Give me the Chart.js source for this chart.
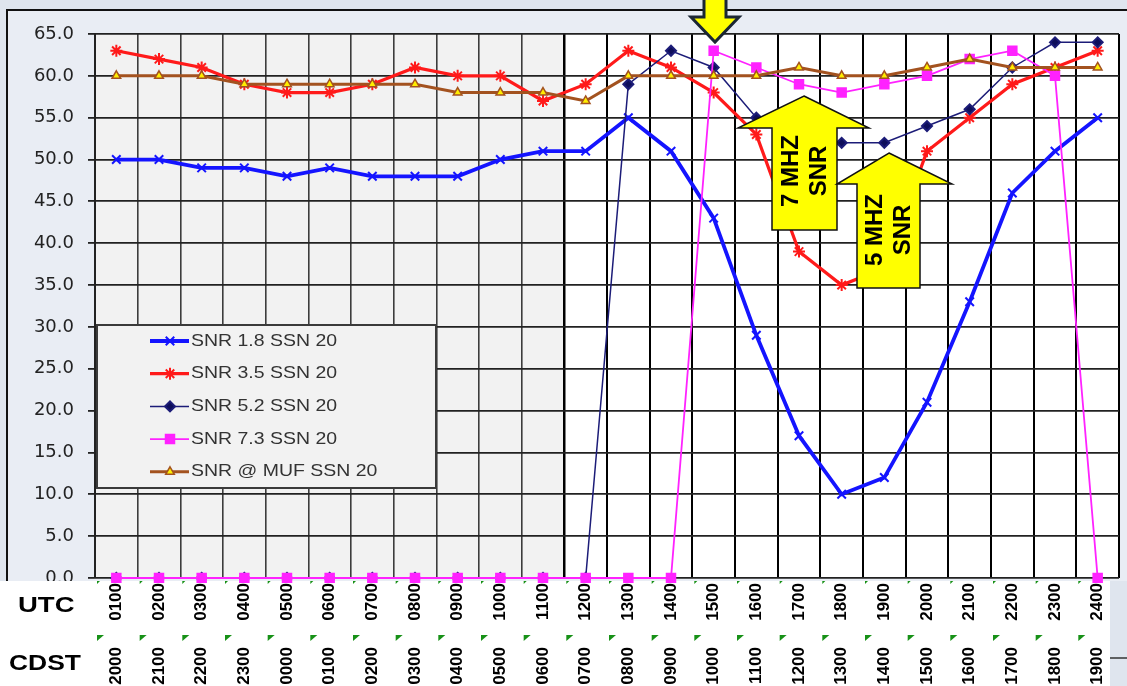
<!DOCTYPE html>
<html>
<head>
<meta charset="utf-8">
<script src="https://cdn.jsdelivr.net/npm/chart.js@4.4.1/dist/chart.umd.min.js"></script>
<style>
html,body{margin:0;padding:0;background:#dfe5ee;}
#wrap{position:relative;width:1127px;height:686px;}
</style>
</head>
<body>
<div id="wrap"><canvas id="snrChart"></canvas></div>
<script>
// hours, two time zones
var utcLabels = ['0100','0200','0300','0400','0500','0600','0700','0800','0900','1000','1100','1200',
                 '1300','1400','1500','1600','1700','1800','1900','2000','2100','2200','2300','2400'];
var cdstLabels = ['2000','2100','2200','2300','0000','0100','0200','0300','0400','0500','0600','0700',
                  '0800','0900','1000','1100','1200','1300','1400','1500','1600','1700','1800','1900'];

var seriesNames = ['SNR 1.8 SSN 20','SNR 3.5 SSN 20','SNR 5.2 SSN 20','SNR 7.3 SSN 20','SNR @ MUF SSN 20'];
var snr18 = [50,50,49,49,48,49,48,48,48,50,51,51,55,51,43,29,17,10,12,21,33,46,51,55];
var snr35 = [63,62,61,59,58,58,59,61,60,60,57,59,63,61,58,53,39,35,37,51,55,59,61,63];
var snr52 = [0,0,0,0,0,0,0,0,0,0,0,0,59,63,61,55,52,52,52,54,56,61,64,64];
var snr73 = [0,0,0,0,0,0,0,0,0,0,0,0,0,0,63,61,59,58,59,60,62,63,60,0];
var snrMuf = [60,60,60,59,59,59,59,59,58,58,58,57,60,60,60,60,61,60,60,61,62,61,61,61];

var yMin = 0, yMax = 65, yStep = 5;
var nightCount = 11; // grey shaded hours 0100..1100

var colors = ['#1414ff','#ff1a1a','#1c1c78','#ff22ff','#a3521f'];
var styles = ['crossRot','star','rectRot','rect','triangle'];

function stretchText(ctx, txt, x, y, sx) {
    ctx.save();
    ctx.translate(x, y);
    ctx.scale(sx, 1);
    ctx.fillText(txt, 0, 0);
    ctx.restore();
}

function upArrow(ctx, a) {
    ctx.beginPath();
    ctx.moveTo(a.tipX, a.tipY);
    ctx.lineTo(a.headR, a.headY);
    ctx.lineTo(a.shaftR, a.headY);
    ctx.lineTo(a.shaftR, a.bottom);
    ctx.lineTo(a.shaftL, a.bottom);
    ctx.lineTo(a.shaftL, a.headY);
    ctx.lineTo(a.headL, a.headY);
    ctx.closePath();
    ctx.fillStyle = '#ffff00';
    ctx.fill();
    ctx.lineWidth = 1.5;
    ctx.strokeStyle = '#111';
    ctx.stroke();
    ctx.save();
    ctx.translate(a.textX, a.textY);
    ctx.rotate(-Math.PI / 2);
    ctx.fillStyle = '#000';
    ctx.font = 'bold 24px "Liberation Sans", Arial, sans-serif';
    ctx.textAlign = 'center';
    ctx.textBaseline = 'middle';
    ctx.fillText(a.line1, 0, -14);
    ctx.fillText(a.line2, 0, 14);
    ctx.restore();
}

var backdrop = {
    id: 'backdrop',
    beforeDraw: function(chart) {
        var ctx = chart.ctx, ca = chart.chartArea, xs = chart.scales.x;
        ctx.save();
        ctx.fillStyle = '#dfe5ee';
        ctx.fillRect(0, 0, chart.width, chart.height);
        ctx.fillStyle = '#e9edf4';
        ctx.fillRect(7, 10, chart.width - 7, 571);
        ctx.strokeStyle = '#111';
        ctx.lineWidth = 2;
        ctx.beginPath();
        ctx.moveTo(7, 581); ctx.lineTo(7, 10); ctx.lineTo(chart.width, 10);
        ctx.stroke();
        // label area
        ctx.fillStyle = '#ffffff';
        ctx.fillRect(0, 581, 1110, chart.height - 581);
        ctx.strokeStyle = '#333';
        ctx.lineWidth = 1.5;
        ctx.beginPath(); ctx.moveTo(1110, 658); ctx.lineTo(chart.width, 658); ctx.stroke();
        // plot area: grey night part, white day part
        var half = (xs.getPixelForValue(1) - xs.getPixelForValue(0)) / 2;
        var split = xs.getPixelForValue(nightCount) - half;
        ctx.fillStyle = '#f2f2f2';
        ctx.fillRect(ca.left, ca.top, split - ca.left, ca.bottom - ca.top);
        ctx.fillStyle = '#ffffff';
        ctx.fillRect(split, ca.top, ca.right - split, ca.bottom - ca.top);
        ctx.restore();
    },
    beforeDatasetsDraw: function(chart) {
        // legend box inside the plot
        var ctx = chart.ctx;
        ctx.save();
        ctx.fillStyle = '#f2f2f2';
        ctx.fillRect(97, 325, 339, 163);
        ctx.strokeStyle = '#3a3a3a';
        ctx.lineWidth = 2;
        ctx.strokeRect(97, 325, 339, 163);
        ctx.font = '16.5px "Liberation Sans", Arial, sans-serif';
        ctx.textBaseline = 'middle';
        chart.data.datasets.forEach(function(ds, i) {
            var y = 341 + i * 32.7;
            ctx.strokeStyle = ds.borderColor;
            ctx.lineWidth = ds.borderWidth;
            ctx.beginPath(); ctx.moveTo(150, y); ctx.lineTo(189, y); ctx.stroke();
            ctx.fillStyle = ds.pointBackgroundColor;
            ctx.strokeStyle = ds.pointBorderColor;
            ctx.lineWidth = ds.pointBorderWidth;
            Chart.helpers.drawPoint(ctx, {pointStyle: ds.pointStyle, radius: ds.pointRadius, rotation: 0, borderWidth: ds.pointBorderWidth}, 170, y);
            ctx.fillStyle = '#333';
            stretchText(ctx, ds.label, 191, y, 1.18);
        });
        ctx.restore();
    },
    afterDraw: function(chart) {
        var ctx = chart.ctx, xs = chart.scales.x;
        ctx.save();
        // hide lower half of the 0.0 label like the original
        ctx.fillStyle = '#ffffff';
        ctx.fillRect(0, 581, 94, chart.height - 581);
        ctx.fillStyle = '#000';
        ctx.font = 'bold 22px "Liberation Sans", Arial, sans-serif';
        ctx.textBaseline = 'middle';
        stretchText(ctx, 'UTC', 18, 606, 1.25);
        stretchText(ctx, 'CDST', 9, 664, 1.2);
        // small green comment marks
        var half = (xs.getPixelForValue(1) - xs.getPixelForValue(0)) / 2;
        ctx.fillStyle = '#179117';
        for (var i = 0; i < utcLabels.length; i++) {
            var x0 = xs.getPixelForValue(i) - half + 2;
            ctx.beginPath(); ctx.moveTo(x0, 635); ctx.lineTo(x0 + 7, 635); ctx.lineTo(x0, 641); ctx.closePath(); ctx.fill();
            ctx.beginPath(); ctx.moveTo(x0, 581); ctx.lineTo(x0 + 3, 581); ctx.lineTo(x0, 584); ctx.closePath(); ctx.fill();
        }
        // callout arrows
        upArrow(ctx, {tipX: 804, tipY: 96, headY: 128, headL: 738, headR: 869, shaftL: 772, shaftR: 837, bottom: 230,
                      textX: 805, textY: 171, line1: '7 MHZ', line2: 'SNR'});
        upArrow(ctx, {tipX: 889, tipY: 153, headY: 184, headL: 837, headR: 952, shaftL: 857, shaftR: 920, bottom: 288,
                      textX: 889, textY: 230, line1: '5 MHZ', line2: 'SNR'});
        // pointer at the top
        ctx.beginPath();
        ctx.moveTo(704, -4); ctx.lineTo(726, -4); ctx.lineTo(726, 17); ctx.lineTo(739, 17);
        ctx.lineTo(715, 42); ctx.lineTo(691, 17); ctx.lineTo(704, 17); ctx.closePath();
        ctx.fillStyle = '#ffff00';
        ctx.fill();
        ctx.lineWidth = 3;
        ctx.strokeStyle = '#1b2633';
        ctx.stroke();
        ctx.restore();
    }
};

var seriesData = [snr18, snr35, snr52, snr73, snrMuf];
var widths = [3.8, 3.2, 1.5, 1.8, 3];
var radii = [6, 6, 5, 6, 5];
var fills = ['#1414ff', '#ff1a1a', '#0e0e5a', '#ff22ff', '#ffee00'];
var drawOrder = [5, 4, 3, 2, 1];

var datasets = [];
for (var i = 0; i < seriesData.length; i++) {
    datasets.push({
        label: seriesNames[i],
        data: seriesData[i],
        borderColor: colors[i],
        borderWidth: widths[i],
        pointStyle: styles[i],
        pointRadius: radii[i],
        pointBorderWidth: i == 4 ? 1.5 : 2,
        pointBorderColor: colors[i],
        pointBackgroundColor: fills[i],
        backgroundColor: fills[i],
        tension: 0,
        clip: 5,
        order: drawOrder[i]
    });
}

var tickFont = {family: '"Liberation Sans", Arial, sans-serif', size: 17, weight: 'bold'};

new Chart(document.getElementById('snrChart'), {
    type: 'line',
    data: { labels: utcLabels, datasets: datasets },
    plugins: [backdrop],
    options: {
        responsive: true,
        maintainAspectRatio: false,
        animation: false,
        devicePixelRatio: 1,
        layout: { padding: { left: 33, top: 34, right: 5, bottom: 0 } },
        plugins: { legend: { display: false }, tooltip: { enabled: false } },
        scales: {
            x: {
                type: 'category',
                offset: true,
                weight: 0,
                grid: {
                    offset: true,
                    drawTicks: false,
                    color: function(c) { return (c.index !== undefined && c.index < nightCount) ? '#3c3c3c' : '#000'; },
                    lineWidth: function(c) { return c.index === nightCount ? 2.5 : (c.index !== undefined && c.index < nightCount ? 1.6 : 2); }
                },
                border: { display: false },
                ticks: { autoSkip: false, maxRotation: 90, minRotation: 90, padding: 5, color: '#000', font: tickFont },
                afterFit: function(s) { s.height = 65; }
            },
            x2: {
                type: 'category',
                labels: cdstLabels,
                position: 'bottom',
                offset: true,
                weight: 1,
                grid: { display: false, drawTicks: false },
                border: { display: false },
                ticks: { autoSkip: false, maxRotation: 90, minRotation: 90, padding: 4, color: '#000', font: tickFont },
                afterFit: function(s) { s.height = 43; }
            },
            y: {
                min: yMin,
                max: yMax,
                ticks: {
                    stepSize: yStep,
                    padding: 14,
                    color: '#222',
                    font: { family: '"DejaVu Sans", sans-serif', size: 18 },
                    callback: function(v) { return v.toFixed(1); }
                },
                grid: { color: '#222', lineWidth: 1.8, tickLength: 7 },
                border: { display: true, color: '#222', width: 2 },
                afterFit: function(s) { s.width = 62; }
            }
        }
    }
});
</script>
</body>
</html>
